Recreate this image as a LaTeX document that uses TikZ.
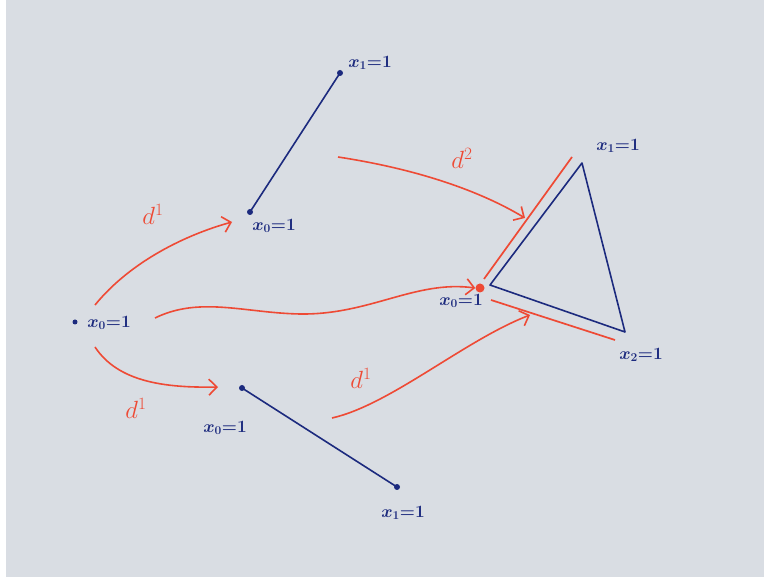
\documentclass[tikz,border=0pt]{standalone}
\usetikzlibrary{arrows.meta}
\definecolor{paper}{HTML}{D9DDE3}
\definecolor{inkblue}{HTML}{1C2A7E}
\definecolor{inkred}{HTML}{EE4A35}
\tikzset{
  bluelabel/.style={text=inkblue,font=\fontsize{17}{18}\selectfont\boldmath,inner sep=1pt},
  redlabel/.style={text=inkred,font=\fontsize{26}{28}\selectfont,inner sep=1pt},
  blueedge/.style={draw=inkblue,line width=1.6pt},
  redline/.style={draw=inkred,line width=1.7pt},
  redarrow/.style={draw=inkred,line width=1.6pt,-{Straight Barb[length=8pt,width=16pt,line width=1.6pt]}},
  bluedot/.style={circle,fill=inkblue,inner sep=0pt,minimum size=6pt},
  reddot/.style={circle,fill=inkred,inner sep=0pt,minimum size=9pt},
}
\begin{document}
\begin{tikzpicture}[x=1pt,y=-1pt]
\fill[white] (0,0) rectangle (764,577);
\fill[paper] (6,0) rectangle (764,577);
\useasboundingbox (0,0) rectangle (764,577);

% left point
\node[bluedot,minimum size=5pt] (p) at (75,322) {};
\node[bluelabel] (pl) at (109,323) {$x_0{=}1$};

% top segment
\node[bluedot] (ta) at (250,212) {};
\node[bluedot] (tb) at (340,73) {};
\draw[blueedge] (ta.center) -- (tb.center);
\node[bluelabel] (tal) at (274,226) {$x_0{=}1$};
\node[bluelabel] (tbl) at (370,63) {$x_1{=}1$};

% bottom segment
\node[bluedot] (ba) at (242,388) {};
\node[bluedot] (bb) at (397,487) {};
\draw[blueedge] (ba.center) -- (bb.center);
\node[bluelabel] (bal) at (225,428) {$x_0{=}1$};
\node[bluelabel] (bbl) at (403,513) {$x_1{=}1$};

% triangle
\coordinate (v0) at (490,285);
\coordinate (v1) at (582,163);
\coordinate (v2) at (625,332);
\draw[blueedge,line join=round] (v0) -- (v1) -- (v2) -- cycle;
\node[bluelabel] (v0l) at (461,301) {$x_0{=}1$};
\node[bluelabel] (v1l) at (618,146) {$x_1{=}1$};
\node[bluelabel] (v2l) at (641,355) {$x_2{=}1$};

% red face highlights
\node[reddot] (rd) at (480,288) {};
\coordinate (e1a) at (484,279);
\coordinate (e1b) at (572,157);
\coordinate (e2a) at (491,300);
\coordinate (e2b) at (615,340);
\draw[redline] (e1a) -- (e1b);
\draw[redline] (e2a) -- (e2b);

% arrows
\coordinate (s1) at (95,305);
\coordinate (t1) at (232,222);
\draw[redarrow] (s1) .. controls (130,262) and (185,235) .. (t1);
\node[redlabel] (l1) at (153,214) {$d^1$};

\coordinate (s2) at (95,347);
\coordinate (t2) at (218,387);
\draw[redarrow] (s2) .. controls (118,382) and (165,388) .. (t2);
\node[redlabel] (l2) at (136,408) {$d^1$};

\coordinate (s3) at (155,318);
\draw[redarrow] (s3) .. controls (200,296) and (245,313) .. (300,314) .. controls (370,315) and (415,280) .. (rd.west);

\coordinate (s4) at (338,157);
\coordinate (t4) at (525,218);
\draw[redarrow] (s4) .. controls (410,168) and (475,188) .. (t4);
\node[redlabel] (l4) at (462,158) {$d^2$};

\coordinate (s5) at (332,418);
\coordinate (t5) at (530,315);
\draw[redarrow] (s5) .. controls (390,405) and (465,340) .. (t5);
\node[redlabel] (l5) at (361,378) {$d^1$};
\end{tikzpicture}
\end{document}
